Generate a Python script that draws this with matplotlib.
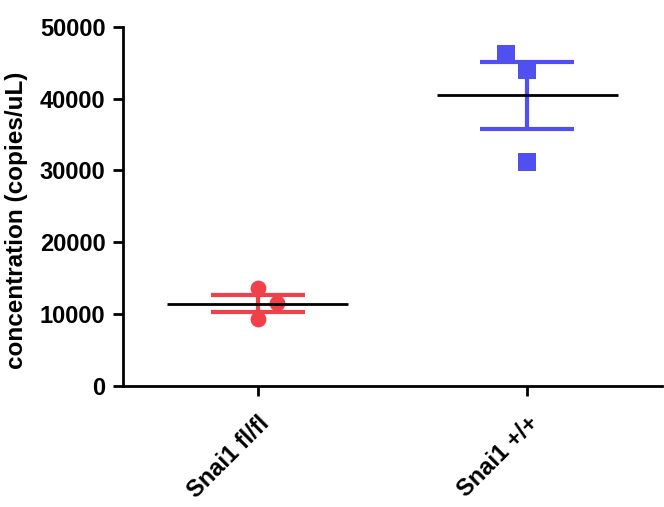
import numpy as np
import matplotlib.pyplot as plt

plt.rcParams['font.family'] = ['Liberation Sans', 'DejaVu Sans']

# values (copies/uL)
groups = ['Snai1 fl/fl', 'Snai1 +/+']
colors = ['#f0404a', '#5050f0']
markers = ['o', 's']
fl_values = [13600, 9300, 11500]
wt_values = [46200, 44000, 31200]
# small horizontal jitter of the points, as in the original scatter
fl_jitter = [0.0, 0.0, 0.07]
wt_jitter = [-0.08, 0.0, 0.0]

data = [fl_values, wt_values]
jitter = [fl_jitter, wt_jitter]

fig = plt.figure(figsize=(6.64, 5.07), dpi=100)
ax = fig.add_axes([0.185, 0.239, 0.812, 0.708])

for i, vals in enumerate(data):
    vals = np.array(vals, dtype=float)
    mean = vals.mean()
    sem = vals.std(ddof=1) / np.sqrt(len(vals))
    # error bars (SEM) drawn under the points
    ax.errorbar(i, mean, yerr=sem, color=colors[i], capsize=33.5, capthick=3,
                elinewidth=3, fmt='none', zorder=2)
    ax.scatter(i + np.array(jitter[i]), vals, color=colors[i], marker=markers[i],
               s=150 if markers[i] == 's' else 130, zorder=3, linewidths=0)
    ax.hlines(mean, i - 0.335, i + 0.335, color='black', linewidth=2, zorder=4)

ax.set_xlim(-0.5, 1.5)
ax.set_ylim(0, 50000)
ax.set_yticks([0, 10000, 20000, 30000, 40000, 50000])
ax.set_xticks([0, 1])
ax.set_xticklabels(groups, rotation=45, ha='right', rotation_mode='anchor',
                   fontsize=17, fontweight='bold')
for lab in ax.get_yticklabels():
    lab.set_fontsize(17)
    lab.set_fontweight('bold')
ax.set_ylabel('concentration (copies/uL)', fontsize=17.5, fontweight='bold', labelpad=2)
ax.yaxis.set_label_coords(-0.175, 0.46)

ax.spines['top'].set_visible(False)
ax.spines['right'].set_visible(False)
ax.spines['left'].set_linewidth(2)
ax.spines['bottom'].set_linewidth(2)
ax.tick_params(width=2, length=7.5, pad=5)
ax.tick_params(axis='x', pad=11)

fig.savefig('out.png', dpi=100)
